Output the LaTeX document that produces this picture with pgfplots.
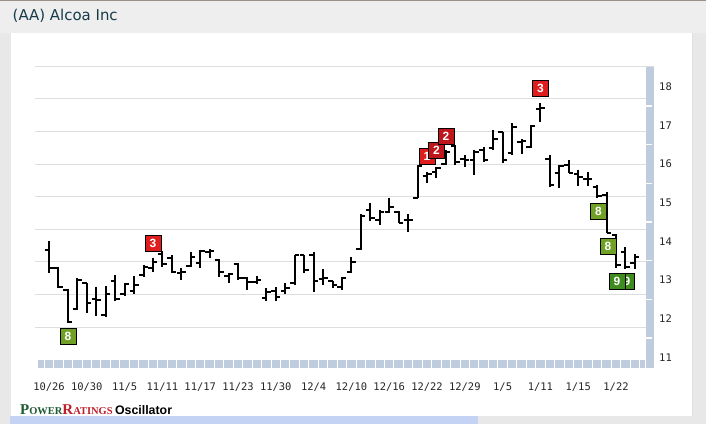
\documentclass[border=0pt]{standalone}
\usepackage{pgfplots}
\pgfplotsset{compat=1.18}
\usepackage{pgfplotstable}
\usepackage{fontspec}
\setmainfont{DejaVu Sans}
\newfontfamily\ticfont{DejaVu Sans Mono}
\newfontfamily\lsans{Liberation Sans}
\newfontfamily\lserif{Liberation Serif}

\definecolor{titlecol}{RGB}{22,58,72}
\definecolor{bandgray}{RGB}{238,238,238}
\definecolor{outergray}{RGB}{232,232,232}
\definecolor{topline}{RGB}{150,144,136}
\definecolor{gridgray}{RGB}{222,222,222}
\definecolor{stripblue}{RGB}{190,204,222}
\definecolor{scrollblue}{RGB}{196,210,244}
\definecolor{redA}{RGB}{222,30,30}
\definecolor{redB}{RGB}{190,22,26}
\definecolor{greenA}{RGB}{112,160,40}
\definecolor{greenB}{RGB}{62,140,30}
\definecolor{prgreen}{RGB}{30,90,50}
\definecolor{prred}{RGB}{190,30,40}

% open tick to the left, close tick to the right, and an empty mark
\pgfdeclareplotmark{tickL}{\pgfpathmoveto{\pgfpoint{-4.5bp}{0pt}}\pgfpathlineto{\pgfpoint{0pt}{0pt}}\pgfusepathqstroke}
\pgfdeclareplotmark{tickR}{\pgfpathmoveto{\pgfpoint{0pt}{0pt}}\pgfpathlineto{\pgfpoint{4.5bp}{0pt}}\pgfusepathqstroke}
\pgfdeclareplotmark{nothing}{}

% i = trading day from 10/26
\pgfplotstableread{
i  o     h     l     c
0  13.78 14.01 13.19 13.30
1  13.30 13.34 12.78 12.82
2  12.75 12.77 11.88 11.92
3  12.24 13.04 12.22 13.00
4  12.91 12.91 12.14 12.40
5  12.51 12.83 12.08 12.48
6  12.09 12.85 12.05 12.63
7  12.98 13.13 12.46 12.50
8  12.64 12.91 12.59 12.89
9  12.72 13.11 12.63 12.87
10 13.13 13.39 13.09 13.33
11 13.30 13.56 13.21 13.47
12 13.66 13.75 13.34 13.41
13 13.56 13.65 13.17 13.21
14 13.17 13.30 13.00 13.21
15 13.37 13.73 13.34 13.60
16 13.43 13.78 13.30 13.76
17 13.72 13.79 13.56 13.76
18 13.52 13.54 13.09 13.21
19 13.10 13.17 12.91 13.15
20 13.41 13.43 13.00 13.04
21 13.05 13.07 12.74 12.96
22 12.95 13.10 12.90 13.00
23 12.53 12.78 12.46 12.70
24 12.72 12.81 12.46 12.55
25 12.72 12.91 12.64 12.78
26 12.91 13.65 12.87 13.65
27 13.65 13.65 13.19 13.26
28 13.65 13.73 12.70 12.98
29 13.02 13.28 12.87 13.04
30 12.97 12.98 12.78 12.87
31 12.83 13.09 12.74 13.06
32 13.21 13.60 13.17 13.47
33 13.80 14.70 13.78 14.66
34 14.81 14.98 14.53 14.60
35 14.55 14.81 14.42 14.75
36 14.75 15.13 14.73 14.88
37 14.76 14.78 14.47 14.48
38 14.55 14.70 14.25 14.55
39 15.11 15.97 15.11 15.95
40 15.70 15.79 15.50 15.75
41 15.80 15.93 15.63 15.90
42 16.00 16.36 15.97 16.32
43 16.47 16.49 15.97 16.06
44 16.12 16.23 15.93 16.10
45 16.10 16.36 15.72 16.32
46 16.35 16.45 16.06 16.10
47 16.41 16.88 16.36 16.64
48 16.82 16.84 16.02 16.10
49 16.28 17.05 16.23 16.97
50 16.56 16.64 16.26 16.60
51 16.43 17.01 16.41 16.99
52 17.42 17.59 17.09 17.45
53 16.12 16.23 15.41 15.46
54 15.76 15.97 15.37 15.95
55 15.97 16.10 15.76 15.78
56 15.74 15.85 15.43 15.66
57 15.62 15.80 15.43 15.60
58 15.41 15.46 15.11 15.17
59 15.20 15.28 14.21 14.22
60 14.16 14.19 13.30 13.39
61 13.73 13.85 13.28 13.33
62 13.45 13.67 13.28 13.59
}\ohlc

\begin{document}
\begin{tikzpicture}
\useasboundingbox (0,0) rectangle (706bp,424bp);
% page frame
\fill[outergray] (0,0) rectangle (706bp,424bp);
\fill[bandgray] (0,391bp) rectangle (706bp,424bp);
\fill[topline] (0,422.5bp) rectangle (706bp,424bp);
\fill[white] (11bp,8bp) rectangle (692bp,391bp);
\draw[black!12, line width=0.8bp] (692bp,8bp) -- (692bp,391bp);
\node[anchor=base west, inner sep=0pt, text=titlecol, font=\fontsize{15}{15}\selectfont] at (12.5bp,403.3bp) {(AA) Alcoa Inc};
\node[anchor=base west, inner sep=0pt] at (20bp,9.5bp) {\lserif\bfseries
  \textcolor{prgreen}{\fontsize{15}{15}\selectfont P\fontsize{10.5}{10}\selectfont OWER}%
  \textcolor{prred}{\fontsize{15}{15}\selectfont R\fontsize{10.5}{10}\selectfont ATINGS}
  \lsans\fontsize{12.4}{12}\selectfont Oscillator};
\fill[outergray] (0,0) rectangle (706bp,7.5bp);
\fill[scrollblue] (10bp,0) rectangle (478bp,7.5bp);

\begin{axis}[
    at={(34.825bp,55.86bp)}, anchor=south west,
    scale only axis, width=618.975bp, height=306.57bp,
    xmin=-1.5, xmax=64, ymin=10.72, ymax=18.65,
    enlargelimits=false, clip=false,
    axis line style={draw=none},
    major tick length=0pt, tick style={draw=none},
    xtick={0,4,...,60},
    xticklabels={10/26,10/30,11/5,11/11,11/17,11/23,11/30,12/4,12/10,12/16,12/22,12/29,1/5,1/11,1/15,1/22},
    ytick={11,...,18},
    yticklabel pos=right,
    /pgf/number format/assume math mode=true,
    ticklabel style={font=\ticfont\fontsize{10.5}{10.5}\selectfont, text=black!85},
    xticklabel style={anchor=north, inner sep=0pt, yshift=-14.4bp},
    yticklabel style={anchor=west, inner sep=0pt, xshift=5.2bp},
    extra y ticks={11.78,12.63,13.47,14.31,15.16,16,16.84,17.69,18.53},
    extra y tick labels={},
    extra y tick style={grid=major},
    major grid style={gridgray, line width=1bp},
]
% blue-grey strips along the right and the bottom
\fill[stripblue] (axis cs:63.2,10.72) rectangle (axis cs:64,18.51);
\fill[stripblue] (axis cs:-1.2,10.72) rectangle (axis cs:63.1,10.93);
\pgfplotsinvokeforeach{11.5,12.5,...,17.5}{
  \draw[white, line width=1.4bp] (axis cs:63.2,#1) -- (axis cs:63.85,#1);}
\pgfplotsinvokeforeach{-1,...,62}{
  \draw[white, line width=1bp] (axis cs:#1+0.5,10.72) -- (axis cs:#1+0.5,10.93);}

% signal boxes
\addplot[only marks, mark=nothing, point meta=explicit symbolic, nodes near coords,
  nodes near coords align=center,
  nodes near coords style={anchor=center, fill=greenA, draw=black, line width=0.8bp, text=white,
    minimum width=16bp, minimum height=16bp, inner sep=0pt, font=\lsans\bfseries\fontsize{12}{12}\selectfont}]
  table[meta=t] {
x     y     t
2     11.55 8
58.15 14.78 8
59.15 13.88 8
};
\addplot[only marks, mark=nothing, point meta=explicit symbolic, nodes near coords,
  nodes near coords align=center,
  nodes near coords style={anchor=center, fill=greenB, draw=black, line width=0.8bp, text=white,
    minimum width=16bp, minimum height=16bp, inner sep=0pt, font=\lsans\bfseries\fontsize{12}{12}\selectfont}]
  table[meta=t] {
x     y     t
61.15 12.97 9
60.1  12.97 9
};
\addplot[only marks, mark=nothing, point meta=explicit symbolic, nodes near coords,
  nodes near coords align=center,
  nodes near coords style={anchor=center, fill=redA, draw=black, line width=0.8bp, text=white,
    minimum width=16bp, minimum height=16bp, inner sep=0pt, font=\lsans\bfseries\fontsize{12}{12}\selectfont}]
  table[meta=t] {
x     y     t
11    13.94 3
40    16.19 1
52    17.96 3
};
\addplot[only marks, mark=nothing, point meta=explicit symbolic, nodes near coords,
  nodes near coords align=center,
  nodes near coords style={anchor=center, fill=redB, draw=black, line width=0.8bp, text=white,
    minimum width=16bp, minimum height=16bp, inner sep=0pt, font=\lsans\bfseries\fontsize{12}{12}\selectfont}]
  table[meta=t] {
x     y     t
41    16.35 2
42    16.72 2
};

% OHLC bars: high-low line, open tick left, close tick right
\addplot[only marks, mark=nothing, error bars/.cd, y dir=minus, y explicit, error mark=none,
  error bar style={black, line width=2bp}]
  table[x=i, y=h, y error minus expr=\thisrow{h}-\thisrow{l}] {\ohlc};
\addplot[only marks, mark=tickL, mark options={black, line width=2bp}] table[x=i, y=o] {\ohlc};
\addplot[only marks, mark=tickR, mark options={black, line width=2bp}] table[x=i, y=c] {\ohlc};
\end{axis}
\end{tikzpicture}
\end{document}
